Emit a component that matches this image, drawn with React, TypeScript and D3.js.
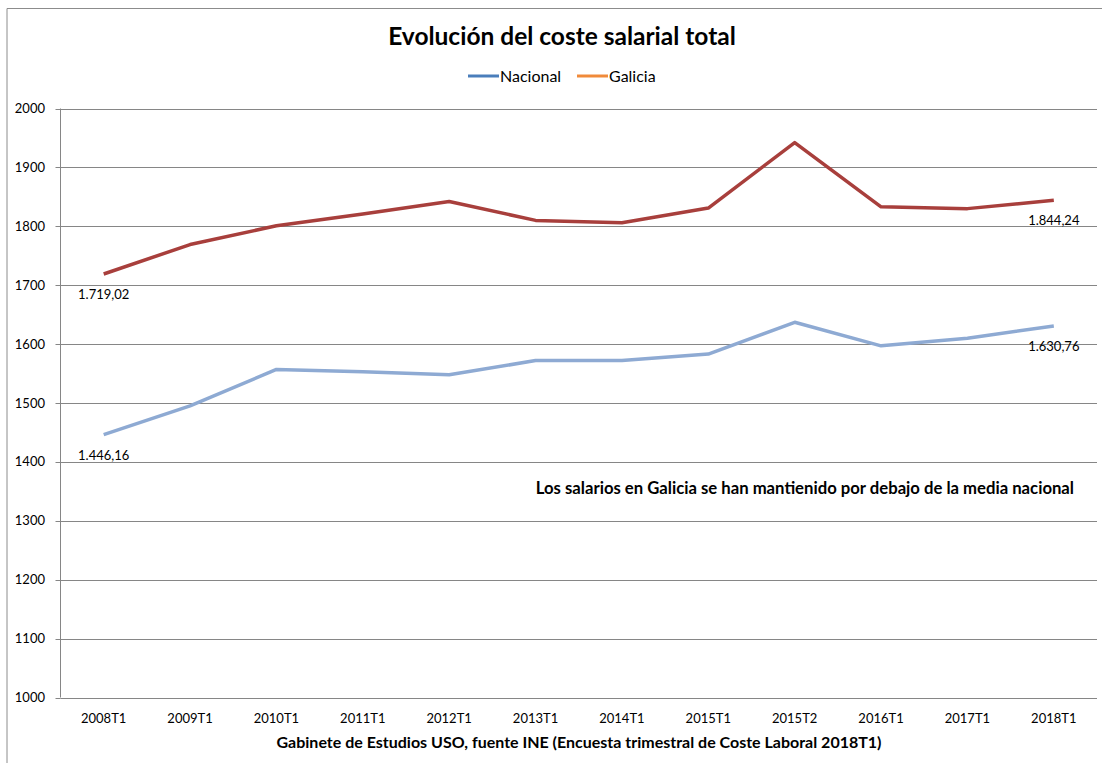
import * as d3 from 'd3';

const categories = [
  '2008T1', '2009T1', '2010T1', '2011T1', '2012T1', '2013T1',
  '2014T1', '2015T1', '2015T2', '2016T1', '2017T1', '2018T1',
];
// upper line (red)
const nacional = [1719.02, 1769, 1801, 1821, 1842, 1810, 1806, 1831, 1942, 1833, 1830, 1844.24];
// lower line (light blue)
const galicia = [1446.16, 1495, 1557, 1553, 1548, 1572, 1572, 1583, 1637, 1597, 1610, 1630.76];
const yTicks = [1000, 1100, 1200, 1300, 1400, 1500, 1600, 1700, 1800, 1900, 2000];

const W = 1102;
const H = 763;
const left = 60.5;
const right = 1097;
const top = 108.5;
const bottom = 697.5;
const font = 'Lato, "Open Sans", sans-serif';

const fmt = (v: number) =>
  v.toFixed(2).replace('.', ',').replace(/\B(?=(\d{3})+(?!\d))/, '.');

export default function App() {
  const x = d3.scaleBand<string>().domain(categories).range([left, right]);
  const y = d3.scaleLinear().domain([1000, 2000]).range([bottom, top]);
  const cx = (c: string) => (x(c) ?? 0) + x.bandwidth() / 2;

  const line = d3
    .line<number>()
    .x((_, i) => cx(categories[i]))
    .y((d) => y(d));

  const last = categories.length - 1;
  const labels = [
    { i: 0, v: nacional[0] },
    { i: last, v: nacional[last] },
    { i: 0, v: galicia[0] },
    { i: last, v: galicia[last] },
  ];

  return (
    <svg
      width={W}
      height={H}
      style={{ position: 'absolute', left: 0, top: 0, background: '#fff' }}
      fontFamily={font}
    >
      {/* chart frame */}
      <path d={`M7,${H} V8.5 H${W}`} fill="none" stroke="#8c8c8c" strokeWidth={1} />

      <text x={562} y={45} textAnchor="middle" fontSize={24.5} fontWeight={700} fill="#000">
        Evolución del coste salarial total
      </text>

      {/* legend */}
      <g fontSize={16} fill="#000">
        <line x1={468} x2={499} y1={76} y2={76} stroke="#4a7ebb" strokeWidth={3} />
        <text x={500} y={82}>Nacional</text>
        <line x1={577} x2={608} y1={76} y2={76} stroke="#f08a3a" strokeWidth={3} />
        <text x={609} y={82}>Galicia</text>
      </g>

      {/* grid */}
      {yTicks.map((t) => (
        <g key={t}>
          <line x1={left} x2={right} y1={Math.round(y(t)) + 0.5} y2={Math.round(y(t)) + 0.5} stroke="#868686" />
          <line x1={left - 5} x2={left} y1={Math.round(y(t)) + 0.5} y2={Math.round(y(t)) + 0.5} stroke="#868686" />
          <text x={45} y={y(t) + 4.5} textAnchor="end" fontSize={13} fill="#000">
            {t}
          </text>
        </g>
      ))}
      <line x1={left} x2={left} y1={top} y2={bottom} stroke="#868686" />

      {categories.map((c) => (
        <text key={c} x={cx(c)} y={723} textAnchor="middle" fontSize={13} fill="#000">
          {c}
        </text>
      ))}

      <path d={line(galicia) ?? ''} fill="none" stroke="#8eaad3" strokeWidth={3.5} strokeLinejoin="round" />
      <path d={line(nacional) ?? ''} fill="none" stroke="#a83f3c" strokeWidth={3.5} strokeLinejoin="round" />

      {labels.map((l, k) => (
        <text key={k} x={cx(categories[l.i])} y={y(l.v) + 25} textAnchor="middle" fontSize={13} fill="#000">
          {fmt(l.v)}
        </text>
      ))}

      <text x={1074} y={494} textAnchor="end" fontSize={16.7} fontWeight={700} fill="#000">
        Los salarios en Galicia se han mantienido por debajo de la media nacional
      </text>

      <text x={579} y={748} textAnchor="middle" fontSize={16} fontWeight={700} fill="#000">
        Gabinete de Estudios USO, fuente INE (Encuesta trimestral de Coste Laboral 2018T1)
      </text>
    </svg>
  );
}
